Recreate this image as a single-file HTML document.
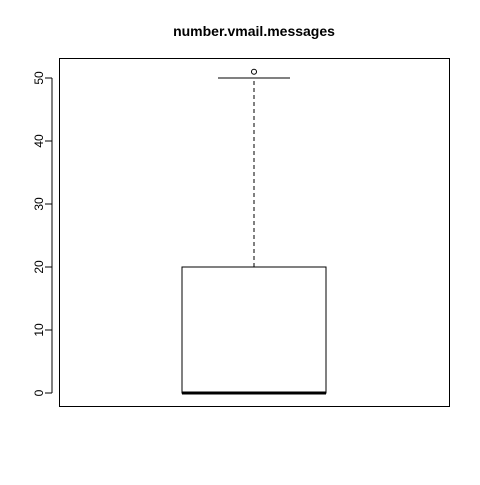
<!DOCTYPE html>
<html><head><meta charset="utf-8"><style>
body{margin:0;background:#fff}
svg text{font-family:"Liberation Sans",Arial,sans-serif}
</style></head><body>
<svg id="chart" width="480" height="480" viewBox="0 0 480 480">
<rect width="480" height="480" fill="#fff"/>
<text x="254" y="36" text-anchor="middle" font-size="14" font-weight="bold">number.vmail.messages</text>
<rect x="59.5" y="58.5" width="390" height="348" fill="none" stroke="#000"/>
<g id="yaxis"></g>
<g id="box"></g>
</svg>
<script>
const yTicks=[0,10,20,30,40,50];
const stats=[0,0,0,20,50]; // min, q1, median, q3, whisker max
const outliers=[51];
function y(v){return 393-v*6.3;}
const xc=254, bw=72;
const ns="http://www.w3.org/2000/svg";
function mk(t,a,p){const e=document.createElementNS(ns,t);for(const k in a)e.setAttribute(k,a[k]);p.appendChild(e);return e;}
const ya=document.getElementById('yaxis');
mk('line',{x1:52,x2:52,y1:y(yTicks[0]),y2:y(yTicks[yTicks.length-1]),stroke:'#000'},ya);
yTicks.forEach(t=>{
 const l=mk('line',{x1:45,x2:52,y1:y(t),y2:y(t),stroke:'#000'},ya);
 
 
 const tx=mk('text',{x:0,y:0,'font-size':12,'text-anchor':'middle',transform:`translate(43,${y(t)}) rotate(-90)`},ya);
 tx.textContent=t;
 
 
});
const g=document.getElementById('box');
const r=mk('rect',{x:xc-bw,y:y(stats[3]),width:bw*2,height:y(stats[1])-y(stats[3]),fill:'#fff',stroke:'#000'},g);


const m=mk('line',{x1:xc-bw,x2:xc+bw,y1:y(stats[2]),y2:y(stats[2]),stroke:'#000','stroke-width':3},g);


const w=mk('line',{x1:xc,x2:xc,y1:y(stats[3]),y2:y(stats[4]),stroke:'#000','stroke-dasharray':'4,3'},g);


const c=mk('line',{x1:xc-36,x2:xc+36,y1:y(stats[4]),y2:y(stats[4]),stroke:'#000'},g);


outliers.forEach(o=>{
 const p=mk('circle',{cx:xc,cy:y(o),r:2.5,fill:'none',stroke:'#000'},g);
 
 
});
</script>
</body></html>
